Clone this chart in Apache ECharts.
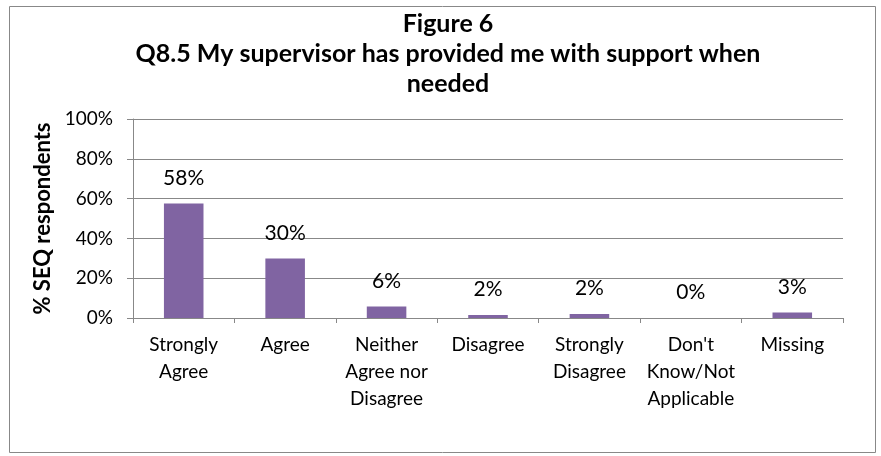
<!DOCTYPE html>
<html>
<head>
<meta charset="utf-8">
<script type="text/javascript" src="https://cdn.jsdelivr.net/npm/echarts@6/dist/echarts.min.js"></script>
<style>
 html, body { margin: 0; padding: 0; background: #fff; }
 #chart { width: 881px; height: 456px; }
</style>
</head>
<body>
<div id="chart"></div>
<script type="text/javascript">
// categories and values
var categories = ['Strongly\nAgree', 'Agree', 'Neither\nAgree nor\nDisagree', 'Disagree', 'Strongly\nDisagree', "Don't\nKnow/Not\nApplicable", 'Missing'];
var percentValues = [57.6, 29.9, 5.8, 1.5, 2.0, 0, 2.8];
var yTicks = [0, 20, 40, 60, 80, 100];

var font = 'Lato, "Open Sans", sans-serif';

var cfg = {
 animation: false,
 title: {
  text: 'Figure 6\nQ8.5 My supervisor has provided me with support when\nneeded',
  left: 448,
  textAlign: 'center',
  top: 9,
  padding: 0,
  textStyle: { fontFamily: font, fontWeight: 'bold', fontSize: 25, lineHeight: 30, color: '#000' }
 },
 graphic: [{
  type: 'rect',
  shape: { x: 9.5, y: 6.5, width: 866, height: 446 },
  style: { fill: 'none', stroke: '#888', lineWidth: 1 },
  silent: true
 }],
 grid: { left: 133, right: 38, top: 119, bottom: 138 },
 xAxis: {
  type: 'category',
  data: categories,
  axisLine: { lineStyle: { color: '#888', width: 1 } },
  axisTick: { show: true, length: 5, alignWithLabel: false, lineStyle: { color: '#888' } },
  axisLabel: { interval: 0, margin: 13, fontFamily: font, fontSize: 19, lineHeight: 27, color: '#000' }
 },
 yAxis: {
  type: 'value',
  min: 0,
  max: 100,
  interval: 20,
  axisLine: { show: true, lineStyle: { color: '#888', width: 1 } },
  axisTick: { show: true, length: 6, lineStyle: { color: '#888' } },
  splitLine: { show: true, lineStyle: { color: '#888', width: 1 } },
  axisLabel: {
   margin: 20, fontFamily: font, fontSize: 19, color: '#000',
   formatter: function (v) { return yTicks.indexOf(v) >= 0 ? v + '%' : ''; }
  },
  name: '% SEQ respondents',
  nameLocation: 'middle',
  nameGap: 71,
  nameTextStyle: { fontFamily: font, fontWeight: 'bold', fontSize: 22, color: '#000' }
 },
 series: [{
  type: 'bar',
  data: percentValues,
  barCategoryGap: '61%',
  itemStyle: { color: '#8064A2' },
  label: {
   show: true,
   position: 'top',
   distance: 15,
   fontFamily: font,
   fontSize: 21,
   color: '#000',
   formatter: function (p) { return Math.round(p.value) + '%'; }
  }
 }]
};

var myChart = echarts.init(document.getElementById('chart'));
myChart.setOption(cfg);
</script>
</body>
</html>
